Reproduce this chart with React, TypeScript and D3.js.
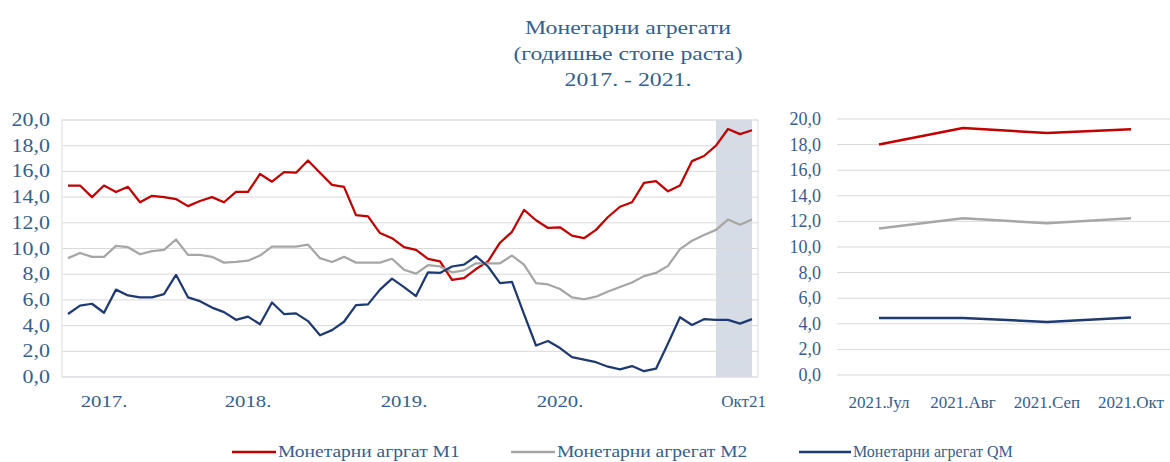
import React from "react";
import * as d3 from "d3";

const titleLines = ["Монетарни агрегати", "(годишње стопе раста)", "2017. - 2021."];

// Monthly annual growth rates, Jan 2017 – Oct 2021
const m1 = [
  14.9, 14.9, 14.0, 14.9, 14.4, 14.8, 13.6, 14.1, 14.0, 13.85, 13.3, 13.7, 14.0, 13.6, 14.4,
  14.4, 15.8, 15.2, 15.95, 15.9, 16.85, 15.9, 14.95, 14.8, 12.6, 12.5, 11.2, 10.8, 10.1,
  9.9, 9.2, 9.0, 7.55, 7.7, 8.4, 9.0, 10.45, 11.3, 13.0, 12.2, 11.6, 11.65, 11.0,
  10.8, 11.45, 12.45, 13.25, 13.6, 15.1, 15.25, 14.45, 14.9, 16.8, 17.2, 18.0, 19.3, 18.9, 19.2,
];
const m2 = [
  9.25, 9.65, 9.35, 9.35, 10.2, 10.1, 9.55, 9.8, 9.9, 10.7, 9.5, 9.5, 9.35, 8.9, 8.95,
  9.05, 9.45, 10.15, 10.15, 10.15, 10.3, 9.25, 8.95, 9.35, 8.9, 8.9, 8.9, 9.2, 8.35,
  8.05, 8.7, 8.6, 8.15, 8.3, 8.85, 8.85, 8.85, 9.45, 8.75, 7.3, 7.2, 6.85, 6.2,
  6.05, 6.25, 6.65, 7.0, 7.35, 7.85, 8.1, 8.65, 9.95, 10.6, 11.05, 11.45, 12.25, 11.85, 12.25,
];
const qm = [
  4.9, 5.55, 5.7, 5.0, 6.8, 6.35, 6.2, 6.2, 6.45, 7.95, 6.2, 5.9, 5.4, 5.05, 4.45,
  4.7, 4.1, 5.8, 4.9, 4.95, 4.35, 3.25, 3.65, 4.3, 5.6, 5.65, 6.8, 7.65, 7.0,
  6.3, 8.15, 8.1, 8.6, 8.75, 9.4, 8.6, 7.3, 7.4, 4.9, 2.45, 2.8, 2.25, 1.55,
  1.35, 1.15, 0.8, 0.6, 0.85, 0.45, 0.65, 2.6, 4.65, 4.05, 4.5, 4.45, 4.45, 4.15, 4.5,
];

const yTicks = [0, 2, 4, 6, 8, 10, 12, 14, 16, 18, 20];
const yearLabels = ["2017.", "2018.", "2019.", "2020."];
const yearLabelIdx = [3, 15, 28, 41];
const lastLabel = "Окт21";
const shadeFrom = 54; // Jul 2021
const detailLabels = ["2021.Јул", "2021.Авг", "2021.Сеп", "2021.Окт"];
const seriesNames = ["Монетарни агргат М1", "Монетарни агрегат М2", "Монетарни агрегат QM"];
const colors = ["#C00000", "#A6A6A6", "#1F3A70"];

const FONT = "'Liberation Serif', 'Times New Roman', serif";
const TXT = "#35608E";
const GRID = "#D9D9D9";
const WIDE = 1.22;

function T({ x, y, size, anchor = "start", sx = WIDE, children }: any) {
  return (
    <text
      transform={`translate(${x},${y}) scale(${sx},1)`}
      textAnchor={anchor}
      fontSize={size}
      fill={TXT}
    >
      {children}
    </text>
  );
}

export default function App() {
  const series = [m1, m2, qm];
  const n = m1.length;

  const x = d3.scaleBand<number>().domain(d3.range(n)).range([62, 758]);
  const cx = (i: number) => (x(i) as number) + x.bandwidth() / 2;
  const y = d3.scaleLinear().domain([0, 20]).range([377, 120]);

  const xr = d3.scaleBand<number>().domain(d3.range(4)).range([837, 1173]);
  const cxr = (i: number) => (xr(i) as number) + xr.bandwidth() / 2;
  const yr = d3.scaleLinear().domain([0, 20]).range([375, 119]);

  const fmt = (v: number) => d3.format(".1f")(v).replace(".", ",");

  const lineL = d3.line<number>().x((_, i) => cx(i)).y((d) => y(d));
  const lineR = d3.line<number>().x((_, i) => cxr(i)).y((d) => yr(d));

  const legendX = [232, 511, 799];
  const legendLen = [44, 44, 52];
  const legendSx = [WIDE, WIDE, 1];

  return (
    <svg
      width={1170}
      height={462}
      style={{ position: "absolute", left: 0, top: 0, display: "block", background: "#fff" }}
      fontFamily={FONT}
    >
      {titleLines.map((t, i) => (
        <T key={i} x={628} y={34 + i * 26} size={19.5} anchor="middle">
          {t}
        </T>
      ))}

      {/* left chart */}
      <rect
        x={cx(shadeFrom)}
        y={y(20)}
        width={cx(n - 1) - cx(shadeFrom)}
        height={y(0) - y(20)}
        fill="#D6DCE5"
      />
      {yTicks.map((t) => (
        <line key={t} x1={62} x2={758} y1={y(t)} y2={y(t)} stroke={GRID} strokeWidth={1} />
      ))}
      <rect x={62} y={y(20)} width={696} height={y(0) - y(20)} fill="none" stroke="#D9DDE6" strokeWidth={1} />
      {yTicks.map((t) => (
        <T key={t} x={50} y={y(t) + 6} size={18} anchor="end">
          {fmt(t)}
        </T>
      ))}
      {yearLabels.map((l, i) => (
        <T key={l} x={cx(yearLabelIdx[i])} y={407} size={17} anchor="middle">
          {l}
        </T>
      ))}
      <T x={cx(n - 1) + 14} y={407} size={17} anchor="end" sx={1}>
        {lastLabel}
      </T>
      {series.map((s, i) => (
        <path key={i} d={lineL(s) as string} fill="none" stroke={colors[i]} strokeWidth={2.25} strokeLinejoin="round" />
      ))}

      {/* right chart */}
      {yTicks.map((t) => (
        <line key={t} x1={837} x2={1170} y1={yr(t)} y2={yr(t)} stroke={GRID} strokeWidth={1} />
      ))}
      {yTicks.map((t) => (
        <T key={t} x={821} y={yr(t) + 6} size={18} anchor="end" sx={1}>
          {fmt(t)}
        </T>
      ))}
      {detailLabels.map((l, i) => (
        <T key={l} x={cxr(i)} y={408} size={17} anchor="middle" sx={1}>
          {l}
        </T>
      ))}
      {series.map((s, i) => (
        <path key={i} d={lineR(s.slice(-4)) as string} fill="none" stroke={colors[i]} strokeWidth={2.5} strokeLinejoin="round" />
      ))}

      {/* legend */}
      {seriesNames.map((name, i) => (
        <g key={name}>
          <line x1={legendX[i]} x2={legendX[i] + legendLen[i]} y1={452} y2={452} stroke={colors[i]} strokeWidth={2.5} />
          <T x={legendX[i] + legendLen[i] + 2} y={457} size={16} sx={legendSx[i]}>
            {name}
          </T>
        </g>
      ))}
    </svg>
  );
}
